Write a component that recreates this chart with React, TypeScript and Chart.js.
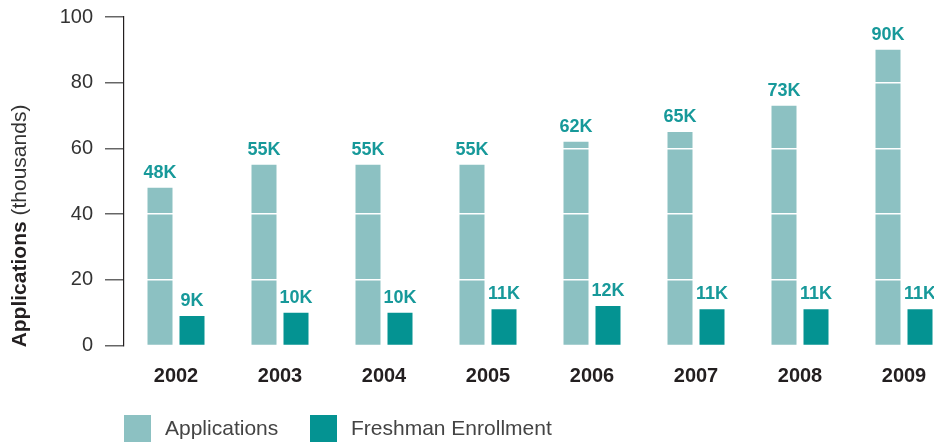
import React, { useEffect, useRef } from "react";
import { Chart, registerables } from "chart.js";

Chart.register(...registerables);

const years = ["2002", "2003", "2004", "2005", "2006", "2007", "2008", "2009"];
const applications = [48, 55, 55, 55, 62, 65, 73, 90];
const enrollment = [9, 10, 10, 11, 12, 11, 11, 11];
const applicationLabels = ["48K", "55K", "55K", "55K", "62K", "65K", "73K", "90K"];
const enrollmentLabels = ["9K", "10K", "10K", "11K", "12K", "11K", "11K", "11K"];
const seriesNames = ["Applications", "Freshman Enrollment"];
const yTicks = [0, 20, 40, 60, 80, 100];

const APP_COLOR = "#8cc1c2";
const ENR_COLOR = "#049392";
const LABEL_COLOR = "#17999a";
const FONT = "'Liberation Sans', Arial, Helvetica, sans-serif";

const overlayPlugin = {
  id: "overlay",
  afterDraw(chart: any) {
    const ctx = chart.ctx;
    // value labels
    ctx.save();
    ctx.fillStyle = LABEL_COLOR;
    ctx.font = `bold 18px ${FONT}`;
    ctx.textAlign = "center";
    ctx.textBaseline = "alphabetic";
    const lbls = [applicationLabels, enrollmentLabels];
    chart.data.datasets.forEach((_: any, di: number) => {
      const meta = chart.getDatasetMeta(di);
      meta.data.forEach((bar: any, i: number) => {
        ctx.fillText(lbls[di][i], bar.x, bar.y - 10);
      });
    });
    ctx.restore();

    // y axis title: bold "Applications" + regular " (thousands)"
    ctx.save();
    const bold = "Applications";
    const reg = " (thousands)";
    ctx.translate(26, 226);
    ctx.rotate(-Math.PI / 2);
    ctx.textBaseline = "alphabetic";
    ctx.font = `bold 21px ${FONT}`;
    const wb = ctx.measureText(bold).width;
    ctx.font = `21px ${FONT}`;
    const wr = ctx.measureText(reg).width;
    const start = -(wb + wr) / 2;
    ctx.fillStyle = "#231f20";
    ctx.font = `bold 21px ${FONT}`;
    ctx.textAlign = "left";
    ctx.fillText(bold, start, 0);
    ctx.font = `21px ${FONT}`;
    ctx.fillStyle = "#333333";
    ctx.fillText(reg, start + wb, 0);
    ctx.restore();

    // legend
    ctx.save();
    const items = [
      { x: 124, color: APP_COLOR, text: seriesNames[0] },
      { x: 310, color: ENR_COLOR, text: seriesNames[1] },
    ];
    ctx.font = `21px ${FONT}`;
    ctx.textBaseline = "alphabetic";
    ctx.textAlign = "left";
    items.forEach((it) => {
      ctx.fillStyle = it.color;
      ctx.fillRect(it.x, 415, 27, 27);
      ctx.fillStyle = "#444444";
      ctx.fillText(it.text, it.x + 41, 435);
    });
    ctx.restore();
  },
};

export default function App() {
  const ref = useRef<HTMLCanvasElement | null>(null);
  useEffect(() => {
    if (!ref.current) return;
    const chart = new Chart(ref.current, {
      type: "bar",
      data: {
        labels: years,
        datasets: [
          {
            label: seriesNames[0],
            data: applications,
            backgroundColor: APP_COLOR,
            categoryPercentage: 64 / 104,
            barPercentage: 25 / 32,
          },
          {
            label: seriesNames[1],
            data: enrollment,
            backgroundColor: ENR_COLOR,
            categoryPercentage: 64 / 104,
            barPercentage: 25 / 32,
          },
        ],
      },
      options: {
        responsive: true,
        maintainAspectRatio: false,
        animation: false,
        layout: { padding: { top: 17, left: 0, right: 0, bottom: 0 } },
        plugins: {
          legend: { display: false },
          tooltip: { enabled: false },
          title: { display: false },
        },
        scales: {
          x: {
            offset: true,
            grid: { display: false, drawTicks: false },
            border: { display: false },
            ticks: {
              color: "#231f20",
              font: { family: FONT, size: 20, weight: "bold" },
              padding: 19,
              maxRotation: 0,
            },
            afterFit: (scale: any) => {
              scale.height = 97.5;
              scale.paddingLeft = 0;
              scale.paddingRight = 0;
            },
          },
          y: {
            min: 0,
            max: 100,
            afterBuildTicks: (scale: any) => {
              scale.ticks = yTicks.map((v) => ({ value: v }));
            },
            ticks: {
              stepSize: 20,
              color: "#333333",
              font: { family: FONT, size: 20 },
              padding: 12,
            },
            grid: {
              z: 1,
              color: (c: any) => (c.tick && c.tick.value === 0 ? "rgba(0,0,0,0)" : "#ffffff"),
              lineWidth: 1.5,
              tickColor: "#666666",
              tickLength: 19,
              tickWidth: 1.5,
              drawTicks: true,
            },
            border: { display: true, color: "#231f20", width: 1.2, z: 2 },
            afterFit: (scale: any) => {
              scale.width = 124;
              scale.paddingTop = 0;
              scale.paddingBottom = 0;
            },
          },
        },
      },
      plugins: [overlayPlugin],
    } as any);
    return () => chart.destroy();
  }, []);
  return (
    <div style={{ position: "fixed", left: 0, top: 0, width: 956, height: 443, background: "#fff" }}>
      <canvas ref={ref} />
    </div>
  );
}
